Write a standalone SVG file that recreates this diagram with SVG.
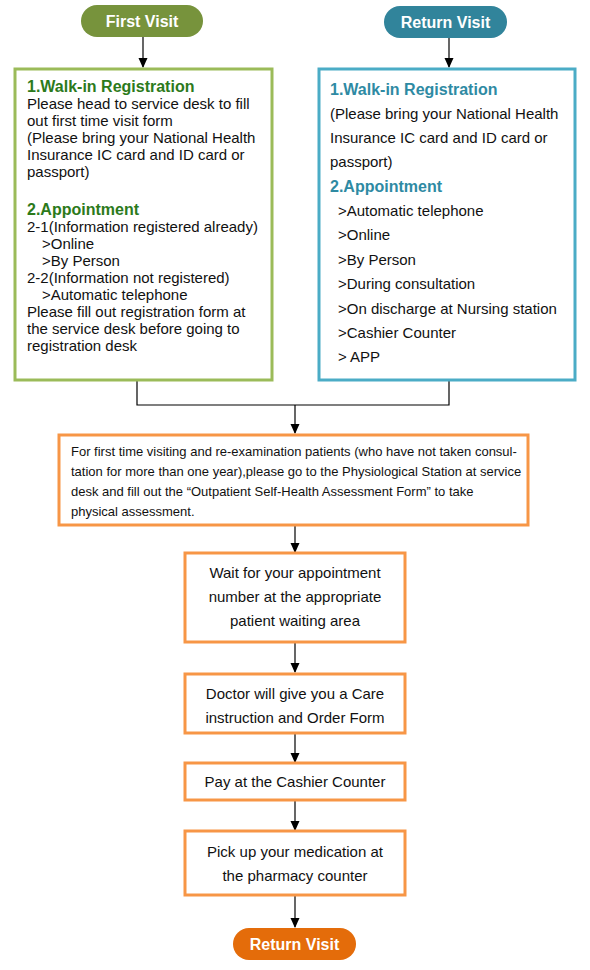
<svg xmlns="http://www.w3.org/2000/svg" width="590" height="970" viewBox="0 0 590 970">
<defs>
<marker id="ah" markerWidth="10" markerHeight="10" refX="9" refY="5" orient="auto" markerUnits="userSpaceOnUse"><path d="M0,0.5 L10,5 L0,9.5 Z" fill="#000"/></marker>
<style>
.t{font-family:"Liberation Sans",Arial,sans-serif;font-size:15px;fill:#111}
.s{font-family:"Liberation Sans",Arial,sans-serif;font-size:13px;fill:#111}
.c{text-anchor:middle}
.hg{font-family:"Liberation Sans",Arial,sans-serif;font-size:16px;font-weight:bold;fill:#2c7a1b}
.hb{font-family:"Liberation Sans",Arial,sans-serif;font-size:16px;font-weight:bold;fill:#2e8aa3}
.p{font-family:"Liberation Sans",Arial,sans-serif;font-size:16px;font-weight:bold;fill:#fff;text-anchor:middle}
.ob{fill:#fff;stroke:#f79646;stroke-width:3}
.ln{fill:none;stroke:#000;stroke-width:1.2}
</style>
</defs>
<g id="connectors">
<line class="ln" x1="143" y1="37" x2="143" y2="67" marker-end="url(#ah)"/>
<line class="ln" x1="449" y1="38" x2="449" y2="67" marker-end="url(#ah)"/>
<polyline class="ln" points="137,380 137,405 449,405 449,380"/>
<line class="ln" x1="295" y1="405" x2="295" y2="433" marker-end="url(#ah)"/>
<line class="ln" x1="295" y1="525" x2="295" y2="552" marker-end="url(#ah)"/>
<line class="ln" x1="295" y1="642" x2="295" y2="672" marker-end="url(#ah)"/>
<line class="ln" x1="295" y1="733" x2="295" y2="762" marker-end="url(#ah)"/>
<line class="ln" x1="295" y1="800" x2="295" y2="830" marker-end="url(#ah)"/>
<line class="ln" x1="295" y1="895" x2="295" y2="927" marker-end="url(#ah)"/>
</g>
<g id="first-visit">
<rect x="81" y="5" width="122" height="32" rx="16" fill="#77933c"/>
<text class="p" x="142" y="27">First Visit</text>
</g>
<g id="return-visit-top">
<rect x="384" y="6" width="123" height="32" rx="16" fill="#31849b"/>
<text class="p" x="445.5" y="28">Return Visit</text>
</g>
<g id="first-box">
<rect x="15" y="69" width="257" height="311" fill="#fff" stroke="#9bbb59" stroke-width="3"/>
<text class="hg" x="27" y="92">1.Walk-in Registration</text>
<text class="t" x="27" y="109">Please head to service desk to fill</text>
<text class="t" x="27" y="126">out first time visit form</text>
<text class="t" x="27" y="143">(Please bring your National Health</text>
<text class="t" x="27" y="160">Insurance IC card and ID card or</text>
<text class="t" x="27" y="177">passport)</text>
<text class="hg" x="27" y="215">2.Appointment</text>
<text class="t" x="27" y="232">2-1(Information registered already)</text>
<text class="t" x="42" y="249">&gt;Online</text>
<text class="t" x="42" y="266">&gt;By Person</text>
<text class="t" x="27" y="283">2-2(Information not registered)</text>
<text class="t" x="42" y="300">&gt;Automatic telephone</text>
<text class="t" x="27" y="317">Please fill out registration form at</text>
<text class="t" x="27" y="334">the service desk before going to</text>
<text class="t" x="27" y="351">registration desk</text>
</g>
<g id="return-box">
<rect x="319" y="69" width="256" height="311" fill="#fff" stroke="#4bacc6" stroke-width="3"/>
<text class="hb" x="330" y="95">1.Walk-in Registration</text>
<text class="t" x="330" y="119">(Please bring your National Health</text>
<text class="t" x="330" y="143">Insurance IC card and ID card or</text>
<text class="t" x="330" y="167">passport)</text>
<text class="hb" x="330" y="192">2.Appointment</text>
<text class="t" x="338" y="216">&gt;Automatic telephone</text>
<text class="t" x="338" y="240">&gt;Online</text>
<text class="t" x="338" y="265">&gt;By Person</text>
<text class="t" x="338" y="289">&gt;During consultation</text>
<text class="t" x="338" y="314">&gt;On discharge at Nursing station</text>
<text class="t" x="338" y="338">&gt;Cashier Counter</text>
<text class="t" x="338" y="362">&gt; APP</text>
</g>
<g id="assessment">
<rect class="ob" x="59" y="435" width="469" height="90"/>
<text class="s" x="71" y="456">For first time visiting and re-examination patients (who have not taken consul-</text>
<text class="s" x="71" y="476">tation for more than one year),please go to the Physiological Station at service</text>
<text class="s" x="71" y="496">desk and fill out the “Outpatient Self-Health Assessment Form” to take</text>
<text class="s" x="71" y="516">physical assessment.</text>
</g>
<g id="wait">
<rect class="ob" x="185" y="553" width="220" height="89"/>
<text class="t c" x="295" y="578">Wait for your appointment</text>
<text class="t c" x="295" y="602">number at the appropriate</text>
<text class="t c" x="295" y="626">patient waiting area</text>
</g>
<g id="doctor">
<rect class="ob" x="185" y="674" width="220" height="59"/>
<text class="t c" x="295" y="699">Doctor will give you a Care</text>
<text class="t c" x="295" y="723">instruction and Order Form</text>
</g>
<g id="pay">
<rect class="ob" x="185" y="763" width="220" height="37"/>
<text class="t c" x="295" y="787">Pay at the Cashier Counter</text>
</g>
<g id="pickup">
<rect class="ob" x="185" y="831" width="220" height="64"/>
<text class="t c" x="295" y="857">Pick up your medication at</text>
<text class="t c" x="295" y="881">the pharmacy counter</text>
</g>
<g id="return-visit-end">
<rect x="233" y="928" width="123" height="32" rx="16" fill="#e46c0a"/>
<text class="p" x="294.5" y="950">Return Visit</text>
</g>
</svg>
